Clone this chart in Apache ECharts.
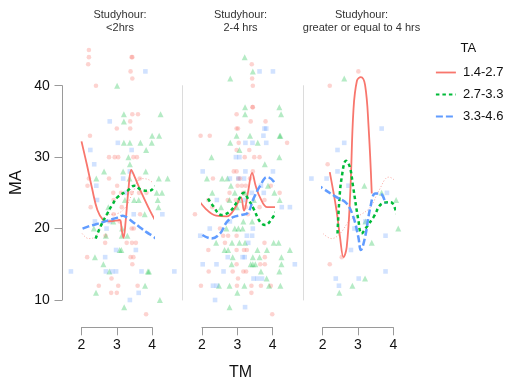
<!DOCTYPE html>
<html><head><meta charset="utf-8">
<script src="https://cdn.jsdelivr.net/npm/echarts@6/dist/echarts.min.js"></script>
<style>html,body{margin:0;padding:0;background:#fff}#c{width:509px;height:381px}</style>
</head><body><div id="c"></div>
<script>
// Groups (TA levels)
const groups = ['1.4-2.7', '2.7-3.3', '3.3-4.6'];
const panelTitles = ['<2hrs', '2-4 hrs', 'greater or equal to 4 hrs'];
const xTicks = [2, 3, 4];
const yTicks = [10, 20, 30, 40];

// Panel 1 points [TM, MA]
const p1Low = [[2.21,45],[2.21,44],[2.19,43],[3.42,44],[3.44,44],[3.39,42],[3.44,41],[2.41,40],[3.44,36],[3.6,36],[3.38,35],[3.0,34],[3.38,34],[2.24,33],[2.78,30],[2.94,30],[3.04,30],[3.47,30],[3.57,30],[2.21,27],[2.78,27],[3.65,27],[2.17,26],[3.01,26],[2.9,25],[3.12,25],[3.42,25],[3.63,25],[3.84,25],[2.91,24],[2.26,23],[3.14,23],[2.91,22],[3.66,22],[3.08,21],[3.42,20],[3.48,20],[2.68,19],[2.67,18],[3.28,18],[3.43,18],[3.54,18],[2.16,16],[3.39,16],[3.47,16],[3.44,15],[2.85,13],[2.49,12],[3.04,12],[3.59,12],[2.84,11],[3.0,11],[3.83,8]];
const p1Mid = [[3.01,40],[3.2,36],[4.24,36],[3.2,35],[4.0,33],[4.2,33],[3.2,32],[3.37,32],[3.67,32],[3.99,32],[3.83,31],[3.33,30],[3.37,29],[2.64,28],[3.18,28],[3.82,28],[2.42,27],[3.36,27],[4.19,27],[4.44,27],[4.13,25],[4.28,25],[3.23,24],[3.49,24],[3.62,24],[4.16,24],[2.76,23],[4.18,23],[3.79,22],[2.9,21],[2.35,20],[3.15,20],[2.69,19],[3.14,19],[3.3,19],[3.08,17],[3.13,17],[2.38,16],[2.62,15],[2.79,14],[3.88,14],[3.91,14],[3.8,12],[2.41,11],[4.22,10],[3.21,9]];
const p1High = [[3.81,42],[2.8,35],[3.03,32],[2.25,31],[3.42,31],[2.36,29],[3.37,28],[3.18,27],[2.42,26],[3.27,25],[2.44,24],[3.48,22],[4.29,22],[2.38,21],[2.8,21],[2.71,20],[2.98,17],[3.54,17],[2.67,16],[1.7,14],[2.69,14],[2.87,14],[2.98,14],[3.7,14],[4.63,14],[3.62,11],[3.37,10]];
// Panel 1 smoothers
const p1LowFit = [[2.0,32.2],[2.15,29],[2.3,25.6],[2.45,22.6],[2.6,21.3],[2.75,21.0],[2.95,21.1],[3.08,21.2],[3.14,19.8],[3.19,18.7],[3.25,21],[3.33,25.5],[3.41,28.2],[3.5,27.3],[3.7,25],[3.95,22.4],[4.22,20]];
const p1MidFit = [[2.4,18.6],[2.55,20.4],[2.73,22.1],[2.88,23.4],[3.02,24.4],[3.3,25.3],[3.5,26],[3.7,25.4],[3.92,25.3],[4.1,25.9],[4.26,26.3],[4.46,27.2]];
const p1HighFit = [[2.03,20],[2.2,20.3],[2.41,20.6],[2.6,20.9],[2.79,21.2],[3.0,21.5],[3.17,21.8],[3.3,21.5],[3.46,20.9],[3.65,20.2],[3.84,19.5],[4.03,18.9],[4.22,18.1],[4.42,17],[4.6,15.8]];
const p1OtherFit = [[2.02,19.3],[2.2,18.6],[2.4,18.9],[2.55,20.5],[2.73,21.9],[3.02,22.1],[3.25,23],[3.45,25],[3.69,27],[3.95,26.7],[4.2,25],[4.45,21],[4.64,16]];

// Panel 2 points
const p2Low = [[3.41,43],[3.42,41],[3.44,40],[3.43,37],[3.44,37],[2.98,36],[3.38,35],[3.8,35],[2.98,34],[3.02,34],[1.96,33],[2.22,33],[3.04,32],[4.41,32],[2.98,31],[3.34,31],[3.21,30],[3.48,30],[3.63,30],[2.9,28],[2.98,28],[3.44,28],[2.31,27],[3.03,27],[3.08,27],[3.36,27],[3.01,26],[3.13,26],[3.24,26],[3.95,26],[2.78,25],[3.17,25],[4.2,25],[2.18,24],[2.73,24],[2.96,24],[3.77,24],[2.29,23],[3.24,23],[3.63,23],[1.8,22],[3.3,22],[2.51,20],[2.6,19],[2.74,19],[2.98,19],[2.65,18],[3.77,18],[2.18,17],[2.98,17],[3.19,17],[3.27,17],[3.78,16],[2.98,15],[3.65,15],[3.78,15],[2.19,14],[2.87,14],[3.17,14],[3.25,14],[3.02,13],[1.97,12],[2.99,12],[3.4,12],[3.67,12],[3.95,12],[3.4,11],[3.99,8]];
const p2Mid = [[3.21,44],[3.44,42],[2.8,41],[3.22,37],[4.19,37],[3.22,36],[4.24,36],[2.98,33],[3.36,33],[4.2,33],[4.22,33],[2.8,32],[3.58,32],[3.06,31],[2.27,30],[4.19,30],[3.78,29],[2.14,27],[2.57,27],[2.72,27],[2.82,26],[3.87,26],[2.29,25],[2.93,25],[3.22,25],[4.05,25],[2.78,24],[3.05,24],[3.47,24],[4.2,24],[2.54,23],[2.99,23],[3.17,21],[3.42,21],[2.69,20],[2.93,20],[3.03,20],[3.15,20],[2.4,18],[2.85,18],[3.06,18],[3.22,18],[4.03,18],[4.17,18],[2.64,17],[2.74,17],[3.57,17],[3.84,17],[4.49,17],[2.87,16],[3.44,16],[3.63,16],[4.25,16],[2.84,15],[3.38,15],[3.44,15],[3.51,15],[4.25,15],[3.67,14],[4.19,14],[3.83,13],[2.48,12],[2.78,12],[3.2,12],[3.9,12],[4.22,12],[3.0,11],[2.78,9]];
const p2High = [[3.63,42],[4.01,42],[3.77,34],[3.82,34],[3.74,33],[3.23,32],[3.43,32],[3.82,32],[2.96,30],[3.06,30],[2.02,28],[3.23,28],[4.01,28],[2.79,27],[3.03,27],[3.19,27],[3.67,26],[3.41,25],[3.75,25],[2.42,24],[3.22,24],[4.26,23],[4.49,23],[2.79,21],[2.22,20],[3.44,20],[1.95,19],[3.27,19],[3.42,19],[3.31,18],[2.73,16],[3.15,16],[3.21,16],[2.02,15],[2.41,15],[4.63,15],[2.61,14],[3.46,13],[3.57,13],[3.7,13],[2.31,12],[2.42,12],[2.37,10],[3.22,9]];
// Panel 2 smoothers
const p2LowFit = [[1.82,24.6],[2.1,22.8],[2.4,21.8],[2.7,21.7],[2.95,23],[3.1,24.4],[3.19,22.5],[3.3,25],[3.42,27.8],[3.52,26],[3.65,24.3],[3.85,23],[4.05,23],[4.2,24.3],[4.32,27],[4.43,29.8]];
const p2MidFit = [[2.17,24.2],[2.31,23.2],[2.55,21.9],[2.79,22.4],[3.03,24],[3.18,25],[3.3,24.2],[3.46,22.8],[3.65,20.9],[3.79,20.5],[3.98,21.4],[4.17,23],[4.36,24.4]];
const p2HighFit = [[2.01,19.1],[2.27,18.6],[2.51,19.3],[2.7,20.9],[2.88,21.6],[3.12,21.9],[3.3,22.2],[3.46,24.2],[3.65,26],[3.84,27.2],[4.03,26.6],[4.22,24.6],[4.36,22],[4.5,19.1],[4.63,16]];

// Panel 3 points
const p3Low = [[3.01,42],[2.2,40],[2.14,29],[2.54,16],[2.2,15]];
const p3Mid = [[2.61,41],[3.18,26],[3.67,25],[4.08,24],[3.21,21],[4.14,20],[3.39,18],[3.2,13],[2.84,12],[2.47,11]];
const p3High = [[3.67,34],[2.61,32],[2.42,31],[2.42,28],[2.11,27],[1.68,27],[2.73,26],[3.82,25],[3.21,21],[2.9,20],[3.78,19],[2.8,17],[3.78,14],[2.37,13],[3.02,13],[2.46,12]];
// Panel 3 smoothers
const p3LowFit = [[2.2,27.9],[2.39,22.6],[2.49,18.8],[2.59,16],[2.68,17.4],[2.78,24.9],[2.87,36.5],[2.97,40.7],[3.08,41.2],[3.2,40.1],[3.3,34.2],[3.39,24.9]];
const p3MidFit = [[2.42,19.3],[2.47,23.9],[2.54,27.2],[2.66,29.5],[2.77,28.6],[2.86,25.9],[3.01,21.2],[3.1,19.3],[3.24,20.2],[3.44,21.6],[3.68,23.5],[3.92,23.7],[4.1,22.1],[4.2,20.7]];
const p3HighFit = [[1.59,27],[2.01,25.6],[2.39,24.4],[2.68,23.5],[2.87,21.6],[3.01,18.8],[3.08,17],[3.2,18.8],[3.35,23],[3.49,24.9],[3.63,24.9],[3.78,23.5]];
const p3OtherFit = [[2.01,19.3],[2.25,18.6],[2.49,19.3],[2.78,21.2],[3.06,21.9],[3.35,23],[3.59,25.3],[3.87,27.2],[4.1,26.3],[4.35,22.6],[4.59,16]];

const panels = [
  {pts:[p1Low,p1Mid,p1High], fits:[p1LowFit,p1MidFit,p1HighFit], other:p1OtherFit},
  {pts:[p2Low,p2Mid,p2High], fits:[p2LowFit,p2MidFit,p2HighFit], other:null},
  {pts:[p3Low,p3Mid,p3High], fits:[p3LowFit,p3MidFit,p3HighFit], other:p3OtherFit}
];

const FONT = '"Liberation Sans", Arial, Helvetica, sans-serif';
const lineColors = ['#F8766D', '#00BA38', '#619CFF'];
const ptColors = ['rgba(248,118,109,0.4)', 'rgba(0,186,56,0.36)', 'rgba(97,156,255,0.36)'];
const ptSymbols = ['circle', 'triangle', 'rect'];
const ptSizes = [4.6, 6, 4.6];
const lineTypes = ['solid', [3.5, 3], [7, 3]];
const lineWidths = [1.8, 2.5, 2.5];

const gridLefts = [81.5, 202, 322.7];
const grids = gridLefts.map(l => ({left: l, width: 70.6, top: 85.7, height: 214.3}));
const xAxes = gridLefts.map((l, i) => ({
  type: 'value', gridIndex: i, min: 2, max: 4, interval: 1, offset: 27.3,
  axisLine: {show: true, lineStyle: {color: '#9a9a9a', width: 1}},
  axisTick: {show: true, length: 8, lineStyle: {color: '#9a9a9a'}},
  axisLabel: {show: true, fontSize: 14, color: '#111', margin: 11, fontFamily: FONT},
  splitLine: {show: false}
}));
const yAxes = gridLefts.map((l, i) => ({
  type: 'value', gridIndex: i, min: 10, max: 40, interval: 10, offset: 19.3,
  axisLine: {show: true, lineStyle: {color: i === 0 ? '#9a9a9a' : '#dcdcdc', width: 1}},
  axisTick: {show: i === 0, length: 7.7, lineStyle: {color: '#9a9a9a'}},
  axisLabel: {show: i === 0, fontSize: 14, color: '#111', margin: 12.5, fontFamily: FONT},
  splitLine: {show: false}
}));

const series = [];
panels.forEach((p, i) => {
  p.pts.forEach((d, g) => {
    series.push({
      name: 'pts ' + groups[g] + ' ' + i, type: 'scatter', xAxisIndex: i, yAxisIndex: i,
      data: d, symbol: ptSymbols[g], symbolSize: ptSizes[g], clip: false, silent: true, z: 2,
      itemStyle: {color: ptColors[g]}
    });
  });
});
panels.forEach((p, i) => {
  if (p.other) {
    series.push({
      name: 'other ' + i, type: 'line', xAxisIndex: i, yAxisIndex: i, data: p.other,
      smooth: 0.4, symbol: 'none', clip: false, silent: true, z: 3,
      lineStyle: {color: 'rgba(248,118,109,0.65)', width: 1, type: [1, 2]}
    });
  }
  p.fits.forEach((d, g) => {
    series.push({
      name: groups[g], type: 'line', xAxisIndex: i, yAxisIndex: i, data: d,
      smooth: 0.4, symbol: 'none', clip: false, silent: true, z: 4,
      itemStyle: {color: lineColors[g]},
      lineStyle: {color: lineColors[g], width: lineWidths[g], type: lineTypes[g]}
    });
  });
});

const titleCenters = [120, 240.5, 361.5];
const graphic = [];
titleCenters.forEach((c, i) => {
  graphic.push({type: 'text', x: c, y: 15, style: {text: 'Studyhour:', fontSize: 11, fontFamily: FONT, fill: '#333', align: 'center', verticalAlign: 'middle'}});
  graphic.push({type: 'text', x: c, y: 27.5, style: {text: panelTitles[i], fontSize: 11, fontFamily: FONT, fill: '#333', align: 'center', verticalAlign: 'middle'}});
});
graphic.push({type: 'text', x: 16, y: 182.5, rotation: Math.PI / 2, style: {text: 'MA', fontSize: 16.5, fontFamily: FONT, fill: '#111', align: 'center', verticalAlign: 'middle'}});
graphic.push({type: 'text', x: 240.5, y: 372.5, style: {text: 'TM', fontSize: 16, fontFamily: FONT, fill: '#111', align: 'center', verticalAlign: 'middle'}});
graphic.push({type: 'text', x: 460.5, y: 48.5, style: {text: 'TA', fontSize: 13, fontFamily: FONT, fill: '#111', align: 'left', verticalAlign: 'middle'}});

const chart = echarts.init(document.getElementById('c'), null, {renderer: 'canvas'});
chart.setOption({
  animation: false,
  backgroundColor: '#fff',
  textStyle: {fontFamily: FONT},
  grid: grids,
  xAxis: xAxes,
  yAxis: yAxes,
  legend: {
    data: groups, orient: 'vertical', left: 435, top: 66,
    itemWidth: 20, itemHeight: 14, itemGap: 9, padding: 0,
    itemStyle: {opacity: 0},
    lineStyle: {width: 1.8},
    textStyle: {fontSize: 13, color: '#111', fontFamily: FONT, padding: [0, 0, 0, 2]},
    selectedMode: false
  },
  graphic: graphic,
  series: series
});
</script></body></html>
